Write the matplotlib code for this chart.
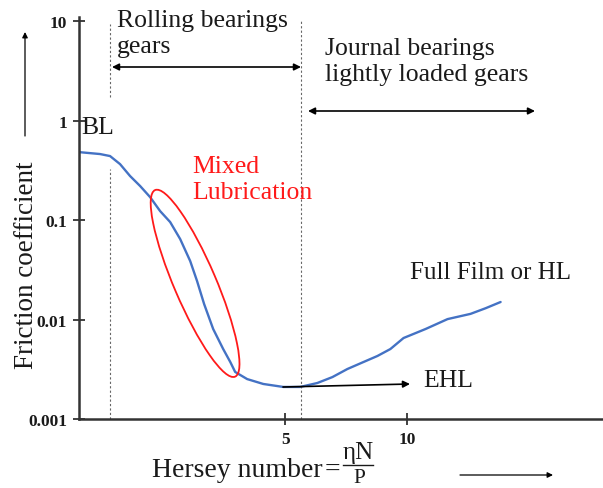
import matplotlib
matplotlib.use("Agg")
import matplotlib.pyplot as plt
import matplotlib.transforms as mtransforms
from matplotlib.patches import Ellipse
from matplotlib.lines import Line2D
from matplotlib.ticker import NullLocator

# Stribeck curve (x: Hersey number, y: friction coefficient)
hersey = [-3.44, -2.58, -2.17, -1.76, -1.35, -0.94, -0.53, -0.12, 0.29, 0.70, 1.11,
          1.39, 1.68, 2.05, 2.46, 2.75, 2.95, 3.44, 4.10, 4.92, 5.61, 6.31, 6.93,
          7.54, 8.20, 8.77, 9.30, 9.84, 10.74, 11.64, 12.58, 13.20, 13.81]
friction = [0.482, 0.461, 0.440, 0.365, 0.277, 0.220, 0.170, 0.123, 0.0955, 0.0644,
            0.0387, 0.0244, 0.0143, 0.00803, 0.00505, 0.00374, 0.00297, 0.00252,
            0.00225, 0.00210, 0.00210, 0.00230, 0.00264, 0.00318, 0.00374, 0.00430,
            0.00505, 0.00652, 0.00803, 0.0101, 0.0114, 0.0130, 0.0150]

x_ticks = [5, 10]
x_tick_labels = ["5", "10"]
y_ticks = [0.001, 0.01, 0.1, 1, 10]
y_tick_labels = ["0.001", "0.01", "0.1", "1", "10"]

regime_bounds = [-2.17, 5.66]      # dotted separators
mixed_center = (1.31, 0.0231)      # centre of the red ellipse

W, H = 603, 489
plt.rcParams['font.family'] = ['Liberation Serif', 'DejaVu Serif']

fig = plt.figure(figsize=(W / 100, H / 100), dpi=100)
ax = fig.add_axes([79 / W, (H - 420) / H, 524 / W, 402 / H])


def px(x, y):
    # pixel position in the picture -> figure fraction
    return (x / W, 1 - y / H)


ax.set_yscale('log')
ax.set_xlim(-3.44, 18.0)
ax.set_ylim(0.001, 11)

ax.plot(hersey, friction, color='#4472C4', lw=1.7, solid_capstyle='round',
        solid_joinstyle='round')

for s in ['top', 'right']:
    ax.spines[s].set_visible(False)
for s in ['left', 'bottom']:
    ax.spines[s].set_linewidth(1.8)
    ax.spines[s].set_color('#333333')

ax.set_xticks(x_ticks)
ax.set_xticklabels(x_tick_labels)
ax.set_yticks(y_ticks)
ax.set_yticklabels(y_tick_labels)
ax.yaxis.set_minor_locator(NullLocator())
ax.tick_params(direction='inout', length=9, width=1.3, color='#333333',
               labelsize=12.5, pad=4)
for lab in ax.get_xticklabels() + ax.get_yticklabels():
    lab.set_fontweight('bold')
    lab.set_color('#1a1a1a')

# dotted regime separators
dot = dict(color='#666666', lw=0.8, ls=(0, (2, 2)))
ax.axvline(regime_bounds[0], ymin=0.801, ymax=0.983, **dot)
ax.axvline(regime_bounds[0], ymin=0.0, ymax=0.622, **dot)
ax.axvline(regime_bounds[1], ymin=0.0, ymax=0.995, **dot)

# red ellipse round the mixed-lubrication part (drawn in pixels so it stays elliptical)
fig.canvas.draw()
cx, cy = ax.transData.transform(mixed_center)
ell = Ellipse((cx, cy), 203, 42, angle=-66.8, fill=False, ec='#FF1A1A', lw=1.3,
              transform=mtransforms.IdentityTransform(), clip_on=False)
fig.add_artist(ell)

arrow2 = dict(arrowstyle='<|-|>', color='black', lw=1.2, mutation_scale=10, shrinkA=0, shrinkB=0)
arrow1 = dict(arrowstyle='-|>', color='black', lw=1.2, mutation_scale=10, shrinkA=0, shrinkB=0)
thin = dict(arrowstyle='-|>', color='black', lw=0.9, mutation_scale=8, shrinkA=0, shrinkB=0)


def fig_arrow(start, end, props):
    ax.annotate('', xy=px(*end), xytext=px(*start), xycoords='figure fraction',
                textcoords='figure fraction', arrowprops=props, annotation_clip=False)


fig_arrow((112, 68), (301, 68), arrow2)
fig_arrow((308, 112), (535, 112), arrow2)
fig_arrow((283, 388), (410, 385), arrow1)
fig_arrow((25, 137), (25, 33), thin)
fig_arrow((460, 476), (553, 476), thin)

ink = '#1a1a1a'
fs = 18.5
fig.text(*px(117, 34), "Rolling bearings\ngears", fontsize=fs, ha='left', va='center',
         linespacing=1.2, color=ink)
fig.text(*px(325, 62), "Journal bearings\nlightly loaded gears", fontsize=fs, ha='left',
         va='center', linespacing=1.2, color=ink)
fig.text(*px(81, 128), "BL", fontsize=fs, ha='left', va='center', color=ink)
fig.text(*px(192, 180), "Mixed\nLubrication", fontsize=fs, ha='left', va='center',
         linespacing=1.2, color='#FF1A1A')
fig.text(*px(410, 273), "Full Film or HL", fontsize=18, ha='left', va='center', color=ink)
fig.text(*px(423, 381), "EHL", fontsize=fs, ha='left', va='center', color=ink)
fig.text(*px(27, 265), "Friction coefficient", fontsize=19.5, ha='center', va='center',
         rotation=90, color=ink)

# x label: "Hersey number = ηN / P" with a stacked fraction
fig.text(*px(152, 477), "Hersey number", fontsize=20, ha='left', va='baseline', color=ink)
fig.text(*px(332, 477), "=", fontsize=20, ha='center', va='baseline', color=ink)
fig.text(*px(358, 459), "ηN", fontsize=18, ha='center', va='baseline', color=ink)
fig.text(*px(359, 483), "P", fontsize=15.5, ha='center', va='baseline', color=ink)
fig.add_artist(Line2D([343 / W, 373 / W], [1 - 466 / H, 1 - 466 / H], color=ink, lw=1.0,
                      transform=fig.transFigure))

fig.savefig("out.png", dpi=100)
